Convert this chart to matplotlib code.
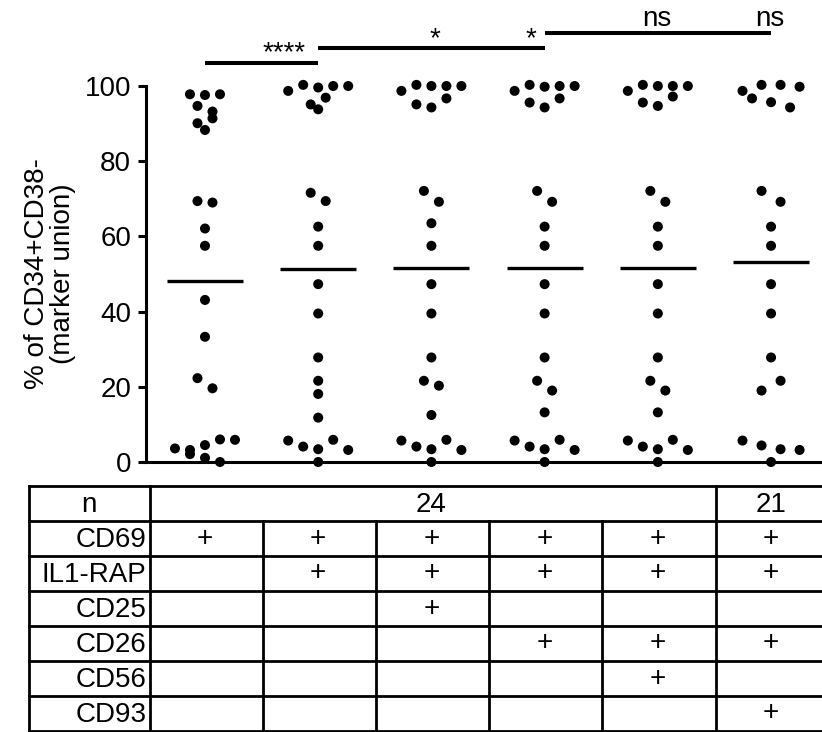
import matplotlib
matplotlib.use("Agg")
import matplotlib.pyplot as plt
import numpy as np

plt.rcParams['font.family'] = ['Liberation Sans', 'DejaVu Sans']

# ---------------- data ----------------
g1 = [97.8, 97.6, 97.8, 94.7, 93.2, 90.1, 91.4, 88.3,
      69.4, 69.0, 62.1, 57.5, 43.1, 33.3, 22.3, 19.6,
      3.6, 3.2, 4.5, 6.0, 5.9, 2.1, 1.1, 0.0]
g2 = [98.7, 100.3, 99.6, 100.0, 100.0, 95.1, 93.8, 96.9,
      71.6, 69.4, 62.6, 57.5, 47.3, 39.5, 27.8, 21.6, 18.1, 11.8,
      5.7, 4.1, 3.4, 5.9, 3.2, 0.0]
g3 = [98.7, 100.3, 100.0, 100.0, 100.0, 95.1, 94.3, 96.7,
      72.1, 69.2, 63.5, 57.5, 47.3, 39.5, 27.8, 21.6, 20.3, 12.5,
      5.7, 4.1, 3.4, 5.9, 3.2, 0.0]
g4 = [98.7, 100.3, 99.8, 100.0, 100.0, 95.6, 94.3, 96.7,
      72.1, 69.2, 62.6, 57.5, 47.3, 39.5, 27.8, 21.6, 19.0, 13.2,
      5.7, 4.1, 3.4, 5.9, 3.2, 0.0]
g5 = [98.7, 100.3, 100.0, 100.0, 100.0, 95.6, 94.7, 97.2,
      72.1, 69.2, 62.6, 57.5, 47.3, 39.5, 27.8, 21.6, 19.0, 13.2,
      5.7, 4.1, 3.4, 5.9, 3.2, 0.0]
g6 = [98.7, 100.3, 100.3, 99.8, 96.7, 95.7, 94.3,
      72.1, 69.2, 62.6, 57.5, 47.3, 39.5, 27.8, 19.0, 21.6,
      5.7, 4.4, 3.4, 3.2, 0.0]
groups = [g1, g2, g3, g4, g5, g6]

row_labels = ['CD69', 'IL1-RAP', 'CD25', 'CD26', 'CD56', 'CD93']
presence = [[1, 1, 1, 1, 1, 1],
            [0, 1, 1, 1, 1, 1],
            [0, 0, 1, 0, 0, 0],
            [0, 0, 0, 1, 1, 1],
            [0, 0, 0, 0, 1, 0],
            [0, 0, 0, 0, 0, 1]]
n_spans = [(0, 4, '24'), (5, 5, '21')]

comparisons = [(0, 1), (1, 3), (3, 5)]
comp_heights = [106.0, 110.0, 114.1]
sig_labels = ['****', '*', '*', 'ns', 'ns']
sig_x = [0.70, 2.03, 2.88, 3.99, 4.99]
sig_y = [106.9, 110.6, 110.6, 116.0, 116.0]

yticks = [0, 20, 40, 60, 80, 100]

# ---------------- layout ----------------
W, H = 822, 732
fig = plt.figure(figsize=(W / 100, H / 100), dpi=100)
ax = fig.add_axes([146 / W, (H - 462) / H, (822 - 146) / W, 376 / H])
ax.set_facecolor('none')
ax.set_xlim(-0.521, 5.45)
ax.set_ylim(0, 100)

FS = 20
LW = 2.2


def swarm_offsets(vals, thresh=3.0):
    vals = np.asarray(vals, dtype=float)
    order = np.argsort(-vals, kind='stable')
    rows, cur, start = [], [], None
    for i in order:
        if start is None or start - vals[i] >= thresh:
            if cur:
                rows.append(cur)
            cur, start = [i], vals[i]
        else:
            cur.append(i)
    rows.append(cur)
    off = np.zeros(len(vals))
    for r in rows:
        r = sorted(r)
        k = len(r)
        for j, i in enumerate(r):
            off[i] = j - (k - 1) / 2
    return off


steps = [0.1325, 0.1325, 0.1325, 0.1325, 0.1325, 0.168]
for gi, vals in enumerate(groups):
    off = swarm_offsets(vals)
    xs = gi + off * steps[gi]
    ax.scatter(xs, vals, s=52, color='black', edgecolors='none',
               zorder=4, clip_on=False)
    m = np.mean(vals)
    ax.plot([gi - 0.335, gi + 0.335], [m, m], color='black', lw=2.4,
            solid_capstyle='butt', zorder=3)

for (a, b), h in zip(comparisons, comp_heights):
    ax.plot([a, b], [h, h], color='black', lw=2.9, solid_capstyle='butt',
            clip_on=False)
for lab, x, y in zip(sig_labels, sig_x, sig_y):
    ax.text(x, y, lab, ha='center', va='baseline', fontsize=FS)

for s in ['top', 'right']:
    ax.spines[s].set_visible(False)
for s in ['left', 'bottom']:
    ax.spines[s].set_linewidth(LW)
ax.set_yticks(yticks)
ax.set_xticks([])
ax.tick_params(axis='y', length=5.8, width=LW, pad=5.0, labelsize=FS)

fig.text(50 / W, 1 - 274 / H, '% of CD34+CD38-\n(marker union)',
         rotation=90, ha='center', va='center', fontsize=FS,
         multialignment='center', linespacing=1.05)

# ---------------- table ----------------
tab = fig.add_axes([146 / W, 1 / H, (822 - 146) / W, 245 / H])
tab.set_xlim(ax.get_xlim())
tab.set_ylim(7, 0)
tab.axis('off')

TLW = 2.0
ng = len(groups)
left_edge = -1.555
bounds = [i - 0.49 for i in range(ng + 1)]
right_edge = bounds[-1]
kw = dict(color='black', lw=TLW, clip_on=False, solid_capstyle='projecting')
for r in range(8):
    tab.plot([left_edge, right_edge + 0.2], [r, r], **kw)
tab.plot([left_edge, left_edge], [0, 7], **kw)
tab.plot([bounds[0], bounds[0]], [0, 7], **kw)
for b in bounds[1:-1]:
    top = 0 if b > 4.5 else 1
    tab.plot([b, b], [top, 7], **kw)

tab.text((left_edge + bounds[0]) / 2, 0.53, 'n', ha='center', va='center',
         fontsize=FS)
for a, b, lab in n_spans:
    tab.text((a + b) / 2, 0.53, lab, ha='center', va='center', fontsize=FS)
for r, lab in enumerate(row_labels):
    tab.text(-0.515, r + 1.53, lab, ha='right', va='center', fontsize=FS)
    for gi in range(ng):
        if presence[r][gi]:
            tab.text(gi, r + 1.5, '+', ha='center', va='center', fontsize=FS)

fig.savefig('out.png', dpi=100)
